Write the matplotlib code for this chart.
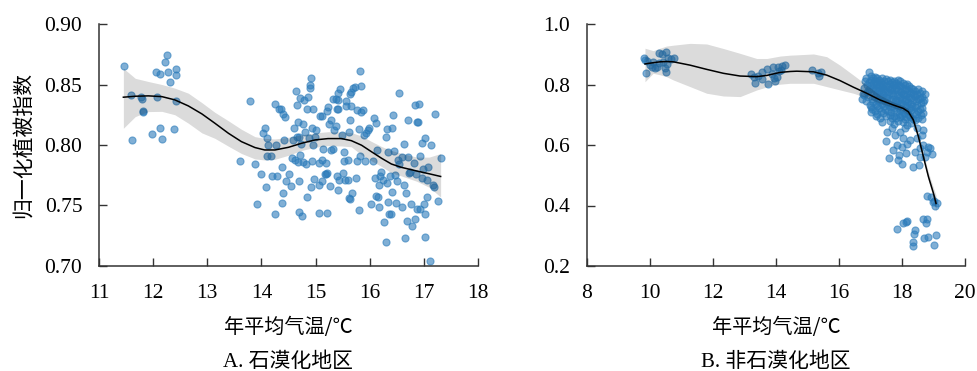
import numpy as np
import matplotlib.pyplot as plt

# ---- panel A: rocky desertification area ----
a_pts = [
    (11.46, 0.865), (11.60, 0.841), (11.78, 0.840), (11.80, 0.838), (11.81, 0.828), (11.81, 0.827),
    (11.61, 0.804), (11.98, 0.809), (12.05, 0.860), (12.13, 0.859), (12.12, 0.814), (12.16, 0.805),
    (12.07, 0.840), (12.21, 0.869), (12.25, 0.874), (12.28, 0.860), (12.32, 0.852), (12.42, 0.863),
    (12.42, 0.858), (12.39, 0.813), (12.42, 0.836),
    (13.61, 0.787), (13.79, 0.836), (13.89, 0.784), (13.91, 0.751), (14.00, 0.776), (14.03, 0.810),
    (14.06, 0.814), (14.08, 0.765), (14.10, 0.791), (14.11, 0.806), (14.13, 0.800), (14.17, 0.791),
    (14.20, 0.774), (14.25, 0.834), (14.25, 0.743), (14.26, 0.800), (14.28, 0.774), (14.33, 0.830),
    (14.36, 0.830), (14.39, 0.826), (14.38, 0.782), (14.39, 0.760), (14.38, 0.752), (14.41, 0.804),
    (14.44, 0.823), (14.46, 0.770), (14.51, 0.776), (14.54, 0.766), (14.57, 0.789), (14.59, 0.804),
    (14.60, 0.814), (14.62, 0.788), (14.64, 0.845), (14.65, 0.833), (14.65, 0.807), (14.67, 0.819),
    (14.67, 0.786), (14.69, 0.807), (14.70, 0.770), (14.72, 0.839), (14.70, 0.745), (14.75, 0.741),
    (14.72, 0.792), (14.73, 0.801), (14.76, 0.817), (14.76, 0.786), (14.79, 0.837), (14.81, 0.811),
    (14.82, 0.784), (14.84, 0.757), (14.85, 0.830), (14.86, 0.840), (14.87, 0.806), (14.89, 0.847),
    (14.90, 0.850), (14.92, 0.855), (14.94, 0.814), (14.94, 0.787), (14.95, 0.800), (14.92, 0.765),
    (14.96, 0.830), (14.97, 0.772), (14.99, 0.807), (15.01, 0.812), (15.07, 0.744), (15.07, 0.767),
    (15.09, 0.824), (15.11, 0.824), (15.11, 0.788), (15.07, 0.785), (15.12, 0.770), (15.14, 0.797),
    (15.17, 0.776), (15.19, 0.776), (15.21, 0.744), (15.21, 0.777), (15.20, 0.785), (15.22, 0.828),
    (15.23, 0.831), (15.25, 0.817), (15.27, 0.766), (15.28, 0.796), (15.29, 0.821), (15.32, 0.797),
    (15.33, 0.838), (15.34, 0.812), (15.37, 0.838), (15.37, 0.816), (15.39, 0.830), (15.41, 0.843),
    (15.41, 0.830), (15.42, 0.837), (15.40, 0.774), (15.42, 0.763), (15.44, 0.771), (15.46, 0.846),
    (15.49, 0.808), (15.51, 0.777), (15.53, 0.794), (15.53, 0.787), (15.55, 0.771), (15.57, 0.832),
    (15.56, 0.836), (15.59, 0.771), (15.60, 0.788), (15.61, 0.811), (15.63, 0.842), (15.62, 0.756),
    (15.64, 0.821), (15.64, 0.755), (15.65, 0.832), (15.66, 0.844), (15.67, 0.760), (15.69, 0.847),
    (15.73, 0.848), (15.74, 0.773), (15.77, 0.829), (15.77, 0.787), (15.80, 0.746), (15.81, 0.813),
    (15.82, 0.861), (15.84, 0.849), (15.84, 0.827), (15.82, 0.791), (15.87, 0.829), (15.89, 0.808),
    (15.91, 0.787), (15.94, 0.810), (15.97, 0.812), (15.99, 0.814), (16.03, 0.751), (16.06, 0.787),
    (16.08, 0.822), (16.09, 0.773), (16.11, 0.818), (16.12, 0.758), (16.14, 0.796), (16.16, 0.757),
    (16.17, 0.767), (16.18, 0.749), (16.19, 0.774), (16.21, 0.778), (16.24, 0.771), (16.27, 0.736),
    (16.30, 0.720), (16.30, 0.807), (16.32, 0.813), (16.32, 0.769), (16.33, 0.794), (16.34, 0.753),
    (16.35, 0.743), (16.37, 0.774), (16.39, 0.743), (16.42, 0.814), (16.42, 0.761), (16.43, 0.825),
    (16.44, 0.795), (16.46, 0.775), (16.49, 0.752), (16.50, 0.770), (16.53, 0.788), (16.54, 0.843),
    (16.55, 0.784), (16.59, 0.790), (16.60, 0.749), (16.63, 0.767), (16.64, 0.801), (16.66, 0.723),
    (16.67, 0.760), (16.68, 0.737), (16.70, 0.790), (16.71, 0.821), (16.72, 0.777), (16.76, 0.751),
    (16.79, 0.733), (16.81, 0.785), (16.83, 0.739), (16.84, 0.833), (16.87, 0.747), (16.88, 0.819),
    (16.90, 0.819), (16.91, 0.834), (16.92, 0.747), (16.93, 0.791), (16.96, 0.773), (16.97, 0.802),
    (17.00, 0.751), (17.02, 0.743), (17.03, 0.806), (17.03, 0.724), (17.05, 0.757), (17.06, 0.771),
    (17.12, 0.704), (17.14, 0.800), (17.16, 0.767), (17.19, 0.765), (17.20, 0.826), (17.27, 0.754),
    (17.31, 0.789), (16.86, 0.776), (16.98, 0.780), (17.08, 0.782), (16.74, 0.778),
]
a_fit_x = [11.45, 11.67, 11.91, 12.16, 12.40, 12.65, 12.90, 13.14, 13.39, 13.63, 13.88, 14.06,
           14.25, 14.50, 14.74, 14.99, 15.23, 15.48, 15.66, 15.85, 16.03, 16.22, 16.40, 16.58,
           16.87, 17.10, 17.31]
a_fit_y = [0.8395, 0.8403, 0.8406, 0.8400, 0.8373, 0.8323, 0.8257, 0.8180, 0.8097, 0.8028,
           0.7979, 0.7959, 0.7959, 0.7981, 0.8014, 0.8042, 0.8053, 0.8053, 0.8036, 0.7998,
           0.7945, 0.7890, 0.7843, 0.7816, 0.7785, 0.7762, 0.7740]
a_fit_lo = [0.8138, 0.8235, 0.8276, 0.8278, 0.8250, 0.8180, 0.8100, 0.8055, 0.7990, 0.7930,
            0.7885, 0.7876, 0.7882, 0.7915, 0.7955, 0.7981, 0.7995, 0.7992, 0.7985, 0.7918,
            0.7870, 0.7822, 0.7770, 0.7745, 0.7700, 0.7650, 0.7570]
a_fit_hi = [0.8634, 0.8551, 0.8525, 0.8500, 0.8470, 0.8428, 0.8350, 0.8270, 0.8200, 0.8130,
            0.8069, 0.8055, 0.8050, 0.8064, 0.8085, 0.8100, 0.8110, 0.8108, 0.8102, 0.8075,
            0.8030, 0.7987, 0.7955, 0.7932, 0.7900, 0.7900, 0.7930]

# ---- panel B: non rocky desertification area ----
b_pts = [
    # around 10 C
    (9.81, 0.889), (9.89, 0.878), (9.87, 0.839), (9.99, 0.865), (10.16, 0.856), (10.21, 0.859),
    (10.30, 0.903), (10.37, 0.901), (10.42, 0.876), (10.51, 0.906), (10.48, 0.856), (10.51, 0.840),
    (10.58, 0.889), (10.66, 0.884), (10.76, 0.889), (10.55, 0.867), (10.27, 0.870), (10.05, 0.859),
    (10.11, 0.876), (9.84, 0.882),
    # 13-15.5 C
    (13.20, 0.834), (13.30, 0.826), (13.33, 0.804), (13.44, 0.828), (13.54, 0.819), (13.54, 0.840),
    (13.70, 0.851), (13.76, 0.801), (13.86, 0.834), (13.91, 0.857), (13.93, 0.823), (13.98, 0.812),
    (14.07, 0.859), (14.11, 0.843), (14.15, 0.848), (14.18, 0.861), (14.29, 0.864), (14.02, 0.826),
    (15.13, 0.848), (15.34, 0.837), (15.42, 0.842), (15.38, 0.829),
    # dense cluster 16.7-18.8 C
    (16.72, 0.751), (16.77, 0.770),
    (16.80, 0.790), (16.82, 0.812), (16.79, 0.766),
    (16.88, 0.800), (16.86, 0.822), (16.89, 0.775), (16.87, 0.745),
    (16.95, 0.840), (16.94, 0.808), (16.96, 0.785), (16.93, 0.760), (16.97, 0.733),
    (17.02, 0.828), (17.01, 0.815), (17.03, 0.797), (17.00, 0.779), (17.04, 0.752), (17.02, 0.726),
    (17.01, 0.708),
    (17.08, 0.822), (17.09, 0.805), (17.07, 0.790), (17.10, 0.768), (17.08, 0.741), (17.06, 0.718),
    (17.15, 0.826), (17.14, 0.812), (17.16, 0.798), (17.13, 0.782), (17.15, 0.760), (17.17, 0.736),
    (17.14, 0.712), (17.16, 0.695),
    (17.22, 0.820), (17.21, 0.803), (17.23, 0.788), (17.20, 0.772), (17.24, 0.750), (17.22, 0.728),
    (17.21, 0.702),
    (17.28, 0.815), (17.29, 0.797), (17.27, 0.780), (17.30, 0.763), (17.28, 0.744), (17.26, 0.722),
    (17.29, 0.690),
    (17.35, 0.823), (17.34, 0.808), (17.36, 0.792), (17.33, 0.774), (17.37, 0.756), (17.35, 0.735),
    (17.34, 0.714), (17.38, 0.675),
    (17.42, 0.812), (17.41, 0.800), (17.43, 0.785), (17.40, 0.768), (17.44, 0.748), (17.42, 0.728),
    (17.41, 0.705),
    (17.48, 0.818), (17.49, 0.795), (17.47, 0.778), (17.50, 0.760), (17.48, 0.740), (17.46, 0.718),
    (17.49, 0.695), (17.51, 0.644), (17.49, 0.613),
    (17.55, 0.810), (17.54, 0.792), (17.56, 0.776), (17.53, 0.757), (17.57, 0.734), (17.55, 0.712),
    (17.62, 0.815), (17.61, 0.802), (17.63, 0.786), (17.60, 0.768), (17.64, 0.748), (17.62, 0.726),
    (17.61, 0.700), (17.63, 0.680), (17.67, 0.655), (17.60, 0.556),
    (17.68, 0.808), (17.69, 0.790), (17.67, 0.772), (17.70, 0.752), (17.68, 0.730), (17.66, 0.708),
    (17.69, 0.688), (17.70, 0.583),
    (17.75, 0.812), (17.74, 0.798), (17.76, 0.782), (17.73, 0.764), (17.77, 0.744), (17.75, 0.722),
    (17.74, 0.696), (17.76, 0.668), (17.77, 0.633),
    (17.82, 0.806), (17.81, 0.788), (17.83, 0.770), (17.80, 0.750), (17.84, 0.732), (17.82, 0.712),
    (17.81, 0.690), (17.83, 0.600),
    (17.88, 0.815), (17.89, 0.800), (17.87, 0.783), (17.90, 0.766), (17.88, 0.746), (17.86, 0.726),
    (17.89, 0.703), (17.87, 0.678), (17.93, 0.644), (17.91, 0.567), (17.88, 0.550),
    (17.95, 0.810), (17.94, 0.794), (17.96, 0.776), (17.93, 0.758), (17.97, 0.738), (17.95, 0.716),
    (17.94, 0.694), (17.99, 0.595), (17.99, 0.536),
    (18.02, 0.805), (18.01, 0.788), (18.03, 0.770), (18.00, 0.752), (18.04, 0.735), (18.02, 0.715),
    (18.01, 0.698), (18.03, 0.676), (18.04, 0.622),
    (18.08, 0.798), (18.09, 0.782), (18.07, 0.765), (18.10, 0.746), (18.08, 0.728), (18.06, 0.706),
    (18.09, 0.686), (18.09, 0.655),
    (18.15, 0.802), (18.14, 0.786), (18.16, 0.769), (18.13, 0.752), (18.17, 0.733), (18.15, 0.712),
    (18.14, 0.692), (18.16, 0.665), (18.15, 0.602), (18.13, 0.572),
    (18.22, 0.795), (18.21, 0.778), (18.23, 0.760), (18.20, 0.742), (18.24, 0.722), (18.22, 0.700),
    (18.28, 0.790), (18.29, 0.772), (18.27, 0.755), (18.30, 0.736), (18.28, 0.716), (18.26, 0.694),
    (18.29, 0.672), (18.25, 0.617),
    (18.35, 0.785), (18.34, 0.768), (18.36, 0.750), (18.33, 0.730), (18.37, 0.708), (18.35, 0.686),
    (18.34, 0.528),
    (18.42, 0.780), (18.41, 0.762), (18.43, 0.744), (18.40, 0.724), (18.44, 0.702), (18.42, 0.682),
    (18.41, 0.578), (18.47, 0.655), (18.47, 0.622),
    (18.50, 0.786), (18.49, 0.770), (18.51, 0.752), (18.48, 0.733), (18.52, 0.712), (18.50, 0.690),
    (18.58, 0.772), (18.57, 0.755), (18.59, 0.738), (18.56, 0.718), (18.60, 0.698),
    (18.55, 0.534), (18.57, 0.561), (18.57, 0.589),
    (18.65, 0.778), (18.64, 0.760), (18.66, 0.742), (18.63, 0.722), (18.67, 0.705), (18.65, 0.685),
    (18.62, 0.633), (18.68, 0.650), (18.68, 0.600),
    (18.72, 0.768), (18.71, 0.748), (18.73, 0.561), (18.78, 0.578),
    (18.84, 0.595), (18.94, 0.569), (18.89, 0.589),
    # low values
    (18.78, 0.430), (18.92, 0.427), (19.02, 0.416), (19.10, 0.408), (19.05, 0.400), (18.97, 0.411),
    (18.68, 0.356), (18.78, 0.356), (18.76, 0.342), (18.13, 0.345), (18.04, 0.342), (18.17, 0.349),
    (17.85, 0.322), (18.41, 0.318), (18.38, 0.307), (18.70, 0.294), (18.84, 0.297), (19.08, 0.301),
    (18.34, 0.279), (18.36, 0.265), (19.00, 0.270),
]
b_fit_x = [9.84, 10.10, 10.32, 10.52, 10.74, 11.27, 11.80, 12.33, 12.86, 13.39, 13.71, 13.92,
           14.13, 14.45, 14.66, 15.19, 15.61, 16.03, 16.46, 16.88, 17.30, 17.73, 18.04, 18.20,
           18.36, 18.52, 18.68, 18.84, 19.00, 19.08]
b_fit_y = [0.868, 0.872, 0.875, 0.876, 0.875, 0.864, 0.850, 0.837, 0.828, 0.826, 0.830, 0.835,
           0.840, 0.843, 0.844, 0.842, 0.831, 0.813, 0.791, 0.771, 0.749, 0.732, 0.721, 0.710,
           0.683, 0.628, 0.561, 0.495, 0.440, 0.407]
b_fit_lo = [0.809, 0.837, 0.832, 0.826, 0.815, 0.793, 0.771, 0.762, 0.760, 0.782, 0.792, 0.798,
            0.801, 0.804, 0.804, 0.804, 0.793, 0.782, 0.771, 0.756, 0.738, 0.723, 0.712, 0.700,
            0.672, 0.617, 0.549, 0.481, 0.422, 0.380]
b_fit_hi = [0.920, 0.912, 0.920, 0.927, 0.930, 0.936, 0.934, 0.919, 0.903, 0.886, 0.886, 0.890,
            0.894, 0.897, 0.898, 0.901, 0.892, 0.864, 0.831, 0.798, 0.765, 0.742, 0.730, 0.720,
            0.694, 0.639, 0.573, 0.509, 0.458, 0.434]

serif = ['Liberation Serif', 'Noto Sans CJK SC']
cjk = ['Noto Sans CJK SC', 'Liberation Serif']
dot_color = '#2b7bba'

fig = plt.figure(figsize=(9.77, 3.71), dpi=100)
axA = fig.add_axes([99 / 977, 105 / 371, 379 / 977, 242 / 371])
axB = fig.add_axes([587 / 977, 105 / 371, 378 / 977, 242 / 371])


def draw(ax, pts, fx, fy, lo, hi):
    x, y = np.array(pts).T
    ax.scatter(x, y, s=26, color=dot_color, alpha=0.6, linewidths=0.8, zorder=2)
    ax.fill_between(fx, lo, hi, color='black', alpha=0.14, linewidth=0, zorder=3)
    ax.plot(fx, fy, color='black', lw=1.1, zorder=4, solid_joinstyle='round')
    for s in ['top', 'right']:
        ax.spines[s].set_visible(False)
    for s in ['left', 'bottom']:
        ax.spines[s].set_color('#333333')
        ax.spines[s].set_linewidth(1.1)
    ax.tick_params(direction='in', length=6, width=1.0, color='#333333', labelsize=15.5)
    ax.tick_params(axis='x', pad=13)
    ax.tick_params(axis='y', pad=12)


draw(axA, a_pts, a_fit_x, a_fit_y, a_fit_lo, a_fit_hi)
axA.set_xlim(11, 18)
axA.set_ylim(0.70, 0.90)
axA.set_xticks(range(11, 19))
axA.set_yticks([0.70, 0.75, 0.80, 0.85, 0.90])
axA.set_yticklabels(['0.70', '0.75', '0.80', '0.85', '0.90'])
axA.set_ylabel('归一化植被指数', family=cjk, fontsize=15, labelpad=8)
axA.set_xlabel('年平均气温/℃', family=cjk, fontsize=14.5, labelpad=10)

draw(axB, b_pts, b_fit_x, b_fit_y, b_fit_lo, b_fit_hi)
axB.set_xlim(8, 20)
axB.set_ylim(0.2, 1.0)
axB.set_xticks(range(8, 21, 2))
axB.set_yticks([0.2, 0.4, 0.6, 0.8, 1.0])
axB.set_yticklabels(['0.2', '0.4', '0.6', '0.8', '1.0'])
axB.set_xlabel('年平均气温/℃', family=cjk, fontsize=14.5, labelpad=10)

for ax in (axA, axB):
    for lab in ax.get_xticklabels() + ax.get_yticklabels():
        lab.set_family(serif)

fig.text(288 / 977, 1 - 362 / 371, 'A. 石漠化地区', family=serif, fontsize=15,
         ha='center', va='center')
fig.text(776 / 977, 1 - 362 / 371, 'B. 非石漠化地区', family=serif, fontsize=15,
         ha='center', va='center')

fig.savefig('out.png', dpi=100)
